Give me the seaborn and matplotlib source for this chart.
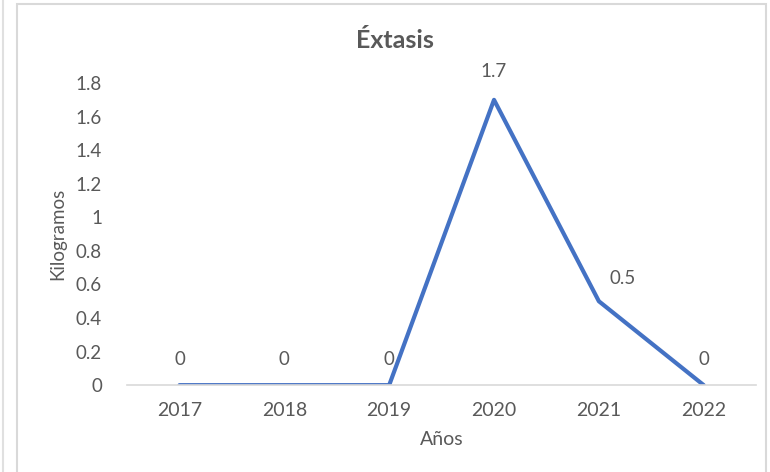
import matplotlib
matplotlib.use("Agg")
import matplotlib.pyplot as plt
import seaborn as sns
import pandas as pd
from matplotlib.patches import Rectangle
from matplotlib.lines import Line2D

# -----------------------------------
# Data
# -----------------------------------

years = ["2017", "2018", "2019", "2020", "2021", "2022"]
kilos = [0, 0, 0, 1.7, 0.5, 0]
y_ticks = [0, 0.2, 0.4, 0.6, 0.8, 1, 1.2, 1.4, 1.6, 1.8]
y_tick_labels = ["0", "0.2", "0.4", "0.6", "0.8", "1", "1.2", "1.4", "1.6", "1.8"]

df = pd.DataFrame({"year": years, "kg": kilos})

# -----------------------------------
# Style
# -----------------------------------

sns.set_style("white")
plt.rcParams["font.family"] = ["Lato", "DejaVu Sans"]

line_color = "#4472C4"
text_color = "#595959"

fig = plt.figure(figsize=(7.7, 4.72), dpi=100)
ax = fig.add_axes([0.165, 0.184, 0.817, 0.640])

sns.lineplot(
    data=df,
    x="year",
    y="kg",
    color=line_color,
    linewidth=3,
    sort=False,
    ax=ax
)

ax.set_xlim(-0.5, len(years) - 0.5)
ax.set_ylim(0, 1.8)
ax.set_yticks(y_ticks)
ax.set_yticklabels(y_tick_labels)

for side in ["top", "right", "left"]:
    ax.spines[side].set_visible(False)
ax.spines["bottom"].set_color("#D9D9D9")
ax.spines["bottom"].set_linewidth(1.2)

ax.tick_params(axis="x", length=0, colors=text_color, labelsize=14, pad=12)
ax.tick_params(axis="y", length=0, colors=text_color, labelsize=13.5, pad=18)

ax.set_xlabel("Años", fontsize=14, color=text_color, labelpad=9)
ax.set_ylabel("Kilogramos", fontsize=13.5, color=text_color, labelpad=7)

fig.text(0.513, 0.915, "Éxtasis", ha="center", va="center",
         fontsize=18, fontweight="bold", color=text_color)

# -----------------------------------
# Data labels
# -----------------------------------

for i, v in enumerate(kilos):
    dx = 0
    dy = 12
    if i == 4:
        dx = 17
        dy = 10
    if i == 3:
        dy = 14
    ax.annotate(
        f"{v:g}",
        xy=(i, v),
        xytext=(dx, dy),
        textcoords="offset points",
        ha="center",
        va="bottom",
        fontsize=13.5,
        color=text_color,
        annotation_clip=False
    )

# -----------------------------------
# Frame
# -----------------------------------

fig.patches.append(Rectangle(
    (17 / 770, -0.05), 749 / 770, 1.05 - 4 / 472,
    transform=fig.transFigure, fill=False,
    edgecolor="#D9D9D9", linewidth=1.5
))
fig.lines.append(Line2D(
    [3 / 770, 3 / 770], [0, 1],
    transform=fig.transFigure, color="#E0E0E0", linewidth=1.5
))

plt.savefig("out.png", dpi=100)
